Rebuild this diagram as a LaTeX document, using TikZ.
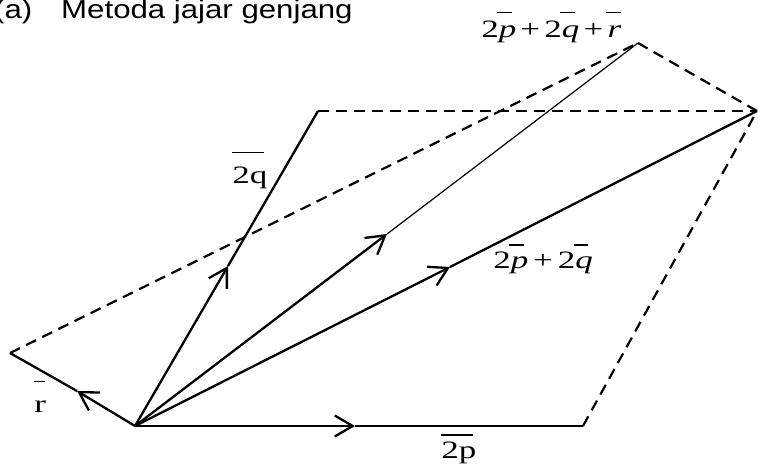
\documentclass[tikz,border=0pt]{standalone}
\usepackage{fontspec}
\setmainfont{Liberation Serif}
\newfontfamily\arialf{Liberation Sans}
\usetikzlibrary{arrows.meta}
\newcommand\barit[3]{\rlap{\hspace{#3}\rule[#1]{0.42em}{0.05em}}\textit{#2}}
\begin{document}
\begin{tikzpicture}[x=1pt,y=-1pt,
  vec/.style={line width=2.3pt},
  thinvec/.style={line width=1.2pt},
  dashline/.style={line width=2.2pt, dash pattern=on 11pt off 7pt},
  arr/.style={-{Straight Barb[length=18pt,width=21pt]}},
  lbl/.style={inner sep=0pt, anchor=base west, xscale=1.4, transform shape, font=\fontsize{25}{29}\selectfont},
  ttl/.style={inner sep=0pt, anchor=base west, xscale=1.2, transform shape, font=\arialf\fontsize{26}{30}\selectfont}]
\useasboundingbox (0,0) rectangle (758,471);
% points
\coordinate (O) at (135,426);
\coordinate (P) at (583,426);
\coordinate (Q) at (318,111);
\coordinate (PQ) at (757,111);
\coordinate (R) at (10,353);
\coordinate (S) at (638,43);
\coordinate (tP) at (355,426);
\coordinate (tQ) at (228,266);
\coordinate (tPQ) at (450,267);
\coordinate (tR) at (77,391);
\coordinate (tS) at (387,234);
% dashed parallelogram sides
\draw[dashline] (R) -- (S);
\draw[dashline] (S) -- (PQ);
\draw[dashline] (Q) -- (PQ);
\draw[dashline] (P) -- (PQ);
% vectors
\draw[vec,arr] (O) -- (tP);
\draw[vec] (tP) -- (P);
\draw[vec,arr] (O) -- (tQ);
\draw[vec] (tQ) -- (Q);
\draw[vec,arr] (O) -- (tPQ);
\draw[vec] (tPQ) -- (PQ);
\draw[vec,arr] (O) -- (tR);
\draw[vec] (tR) -- (R);
\draw[vec,arr] (O) -- (tS);
\draw[thinvec] (tS) -- (S);
% labels
\node[ttl] (ta) at (-6,18) {(a)};
\node[ttl] (tb) at (61,18) {Metoda jajar genjang};
\node[lbl] (lS) at (481,37) {2\barit{0.95em}{p}{-0.05em}\hspace{0.12em}+\hspace{0.12em}2\barit{0.95em}{q}{-0.05em}\hspace{0.12em}+\hspace{0.12em}\barit{0.95em}{r}{-0.05em}};
\node[lbl] (lPQ) at (493,268) {2\barit{0.9em}{p}{-0.05em}\hspace{0.14em}+\hspace{0.14em}2\barit{0.9em}{q}{-0.05em}};
\node[lbl] (lQ) at (232,183) {\rlap{\rule[1.2em]{0.92em}{0.05em}}2q};
\node[lbl] (lR) at (34,412) {\rlap{\rule[1.2em]{0.3em}{0.05em}}r};
\node[lbl] (lP) at (441,458) {\rlap{\rule[0.9em]{0.92em}{0.05em}}2p};
\end{tikzpicture}
\end{document}
